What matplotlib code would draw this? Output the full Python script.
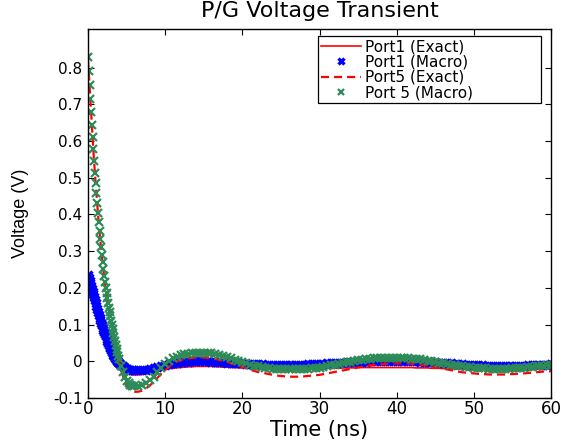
import numpy as np
import matplotlib
matplotlib.use("Agg")
import matplotlib.pyplot as plt

plt.rcParams['font.family'] = ['DejaVu Sans']
plt.rcParams['axes.unicode_minus'] = False
plt.rcParams['lines.scale_dashes'] = False

# time samples (ns): 0..4 step 0.1, 4.25..6 step 0.25, 6.5..60 step 0.5
time_ns = np.concatenate([np.arange(0, 4.001, 0.1),
                          np.arange(4.25, 6.001, 0.25),
                          np.arange(6.5, 60.001, 0.5)])

port1_exact = [
    0.234, 0.227, 0.220, 0.212, 0.205, 0.197, 0.189, 0.181, 0.173, 0.165,
    0.157, 0.149, 0.141, 0.133, 0.125, 0.117, 0.110, 0.103, 0.096, 0.089,
    0.083, 0.077, 0.071, 0.065, 0.059, 0.053, 0.047, 0.042, 0.037, 0.032,
    0.027, 0.022, 0.018, 0.014, 0.010, 0.006, 0.002, -0.002, -0.005, -0.008, -0.011,
    -0.018, -0.024, -0.029, -0.033, -0.035, -0.036, -0.037, -0.037,
    -0.037, -0.036, -0.034, -0.032, -0.030, -0.027, -0.025, -0.022, -0.020, -0.019,
    -0.018, -0.017, -0.016, -0.015, -0.015, -0.014, -0.014, -0.014, -0.014, -0.014,
    -0.015, -0.015, -0.016, -0.016, -0.017, -0.017, -0.018, -0.018, -0.019, -0.019,
    -0.019, -0.020, -0.020, -0.020, -0.020, -0.020, -0.021, -0.021, -0.021, -0.021,
    -0.021, -0.021, -0.021, -0.021, -0.020, -0.020, -0.020, -0.020, -0.020, -0.019,
    -0.019, -0.019, -0.019, -0.018, -0.018, -0.018, -0.018, -0.017, -0.017, -0.017,
    -0.017, -0.017, -0.017, -0.017, -0.017, -0.017, -0.017, -0.017, -0.017, -0.017,
    -0.017, -0.017, -0.018, -0.018, -0.018, -0.018, -0.019, -0.019, -0.019, -0.020,
    -0.020, -0.020, -0.021, -0.021, -0.021, -0.022, -0.022, -0.022, -0.022, -0.023,
    -0.023, -0.023, -0.023, -0.023, -0.023, -0.023, -0.023, -0.023, -0.022, -0.022,
    -0.022, -0.022, -0.021, -0.021, -0.021, -0.021, -0.020, -0.020,
]

port1_macro = [
    0.234, 0.227, 0.220, 0.213, 0.206, 0.198, 0.190, 0.182, 0.174, 0.166,
    0.158, 0.150, 0.142, 0.134, 0.126, 0.119, 0.112, 0.105, 0.098, 0.092,
    0.086, 0.080, 0.074, 0.068, 0.062, 0.056, 0.050, 0.045, 0.040, 0.035,
    0.030, 0.026, 0.022, 0.018, 0.014, 0.010, 0.007, 0.004, 0.001, -0.001, -0.004,
    -0.010, -0.014, -0.018, -0.021, -0.023, -0.024, -0.025, -0.025,
    -0.025, -0.024, -0.023, -0.021, -0.019, -0.016, -0.014, -0.011, -0.008, -0.006,
    -0.004, -0.003, -0.002, -0.001, 0.000, 0.000, 0.000, 0.000, 0.000, -0.001,
    -0.001, -0.002, -0.003, -0.004, -0.004, -0.005, -0.006, -0.006, -0.007, -0.007,
    -0.008, -0.008, -0.008, -0.009, -0.009, -0.009, -0.009, -0.009, -0.009, -0.009,
    -0.009, -0.009, -0.009, -0.009, -0.008, -0.008, -0.008, -0.007, -0.007, -0.006,
    -0.006, -0.005, -0.005, -0.004, -0.003, -0.003, -0.002, -0.002, -0.001, -0.001,
    0.000, 0.000, 0.001, 0.001, 0.001, 0.001, 0.001, 0.001, 0.001, 0.001,
    0.000, 0.000, 0.000, -0.001, -0.001, -0.002, -0.003, -0.003, -0.004, -0.005,
    -0.006, -0.006, -0.007, -0.008, -0.008, -0.009, -0.010, -0.010, -0.011, -0.011,
    -0.012, -0.012, -0.012, -0.013, -0.013, -0.013, -0.013, -0.013, -0.012, -0.012,
    -0.012, -0.011, -0.011, -0.010, -0.010, -0.009, -0.009, -0.008,
]

port5_exact = [
    0.822, 0.786, 0.748, 0.711, 0.675, 0.640, 0.606, 0.573, 0.541, 0.510,
    0.481, 0.453, 0.426, 0.400, 0.375, 0.351, 0.328, 0.306, 0.286, 0.266,
    0.247, 0.229, 0.212, 0.196, 0.182, 0.168, 0.155, 0.142, 0.130, 0.118,
    0.106, 0.094, 0.083, 0.072, 0.061, 0.050, 0.040, 0.030, 0.020, 0.011, 0.002,
    -0.020, -0.038, -0.053, -0.065, -0.073, -0.079, -0.082, -0.083,
    -0.083, -0.080, -0.074, -0.066, -0.056, -0.045, -0.034, -0.024, -0.015, -0.007,
    -0.001, 0.003, 0.006, 0.008, 0.009, 0.010, 0.010, 0.010, 0.009, 0.008,
    0.006, 0.004, 0.001, -0.002, -0.005, -0.009, -0.012, -0.016, -0.019, -0.023,
    -0.026, -0.029, -0.031, -0.033, -0.035, -0.037, -0.039, -0.040, -0.041, -0.042,
    -0.042, -0.042, -0.042, -0.041, -0.040, -0.039, -0.038, -0.037, -0.035, -0.033,
    -0.031, -0.029, -0.027, -0.025, -0.023, -0.021, -0.019, -0.017, -0.015, -0.013,
    -0.011, -0.010, -0.009, -0.008, -0.007, -0.007, -0.006, -0.006, -0.006, -0.006,
    -0.006, -0.007, -0.008, -0.009, -0.010, -0.012, -0.014, -0.016, -0.018, -0.020,
    -0.022, -0.024, -0.026, -0.028, -0.030, -0.031, -0.032, -0.033, -0.034, -0.035,
    -0.035, -0.036, -0.036, -0.036, -0.036, -0.036, -0.035, -0.035, -0.034, -0.034,
    -0.033, -0.032, -0.031, -0.030, -0.029, -0.028, -0.028, -0.027,
]

port5_macro = [
    0.829, 0.790, 0.752, 0.715, 0.679, 0.644, 0.610, 0.577, 0.545, 0.514,
    0.485, 0.457, 0.430, 0.404, 0.379, 0.355, 0.332, 0.310, 0.290, 0.270,
    0.251, 0.233, 0.216, 0.200, 0.186, 0.172, 0.159, 0.146, 0.134, 0.122,
    0.110, 0.098, 0.087, 0.076, 0.065, 0.054, 0.044, 0.034, 0.024, 0.015, 0.006,
    -0.012, -0.030, -0.043, -0.053, -0.060, -0.064, -0.066, -0.067,
    -0.067, -0.065, -0.060, -0.052, -0.042, -0.030, -0.018, -0.007, 0.002, 0.008,
    0.013, 0.016, 0.019, 0.021, 0.022, 0.023, 0.0235, 0.0235, 0.023, 0.022,
    0.020, 0.018, 0.015, 0.012, 0.008, 0.004, 0.000, -0.003, -0.006, -0.009,
    -0.012, -0.014, -0.016, -0.018, -0.019, -0.020, -0.021, -0.021, -0.022, -0.022,
    -0.022, -0.022, -0.021, -0.021, -0.020, -0.019, -0.018, -0.017, -0.015, -0.013,
    -0.011, -0.009, -0.007, -0.005, -0.003, -0.001, 0.001, 0.003, 0.004, 0.006,
    0.007, 0.008, 0.009, 0.009, 0.010, 0.010, 0.010, 0.010, 0.009, 0.009,
    0.008, 0.007, 0.006, 0.005, 0.003, 0.002, 0.000, -0.002, -0.004, -0.006,
    -0.008, -0.009, -0.011, -0.012, -0.014, -0.015, -0.016, -0.017, -0.018, -0.019,
    -0.019, -0.020, -0.020, -0.020, -0.020, -0.020, -0.020, -0.019, -0.019, -0.018,
    -0.017, -0.016, -0.015, -0.014, -0.013, -0.012, -0.011, -0.010,
]

series_labels = ['Port1 (Exact)', 'Port1 (Macro)', 'Port5 (Exact)', 'Port 5 (Macro)']
x_ticks = [0, 10, 20, 30, 40, 50, 60]
y_ticks = [-0.1, 0, 0.1, 0.2, 0.3, 0.4, 0.5, 0.6, 0.7, 0.8]
y_ticklabels = ['-0.1', '0', '0.1', '0.2', '0.3', '0.4', '0.5', '0.6', '0.7', '0.8']

fig = plt.figure(figsize=(5.63, 4.43), dpi=100)
ax = fig.add_axes([88/563, 1-398/443, 463/563, 369/443])

ax.plot(time_ns, port1_exact, color='#ff0000', lw=1.2, label=series_labels[0])
ax.plot(time_ns, port1_macro, linestyle='none', marker='x', color='#0000ff',
        ms=5.5, mew=2.4, label=series_labels[1])
ax.plot(time_ns, port5_exact, color='#ff0000', lw=1.6, dashes=[5.8, 3.6],
        label=series_labels[2])
ax.plot(time_ns, port5_macro, linestyle='none', marker='x', color='#2e8b57',
        ms=5.5, mew=1.6, label=series_labels[3])

ax.set_xlim(0, 60)
ax.set_ylim(-0.1, 0.905)
ax.set_xticks(x_ticks)
ax.set_yticks(y_ticks)
ax.set_yticklabels(y_ticklabels)
ax.tick_params(direction='in', length=4, width=0.8, top=True, right=True)
ax.tick_params(axis='y', labelsize=11, pad=4)
ax.tick_params(axis='x', labelsize=12, pad=1.5)
for s in ax.spines.values():
    s.set_linewidth(1.0)

ax.set_title('P/G Voltage Transient', fontsize=16, pad=8.6)
ax.set_xlabel('Time (ns)', fontsize=15)
ax.set_ylabel('Voltage (V)', fontsize=13, family=['Liberation Sans', 'DejaVu Sans'])
ax.xaxis.set_label_coords(0.5, -0.06)
ax.yaxis.set_label_coords(-0.128, 0.5)

leg = ax.legend(loc='upper left', bbox_to_anchor=(0.497, 0.60, 0.4816, 0.381),
                mode='expand', fontsize=11, labelspacing=0.03, handlelength=2.6,
                handletextpad=0.3, borderpad=0.2, borderaxespad=0, numpoints=1,
                markerscale=0.8, fancybox=False, framealpha=1)
leg.get_frame().set_edgecolor('black')
leg.get_frame().set_linewidth(0.9)

fig.savefig('out.png', dpi=100)
